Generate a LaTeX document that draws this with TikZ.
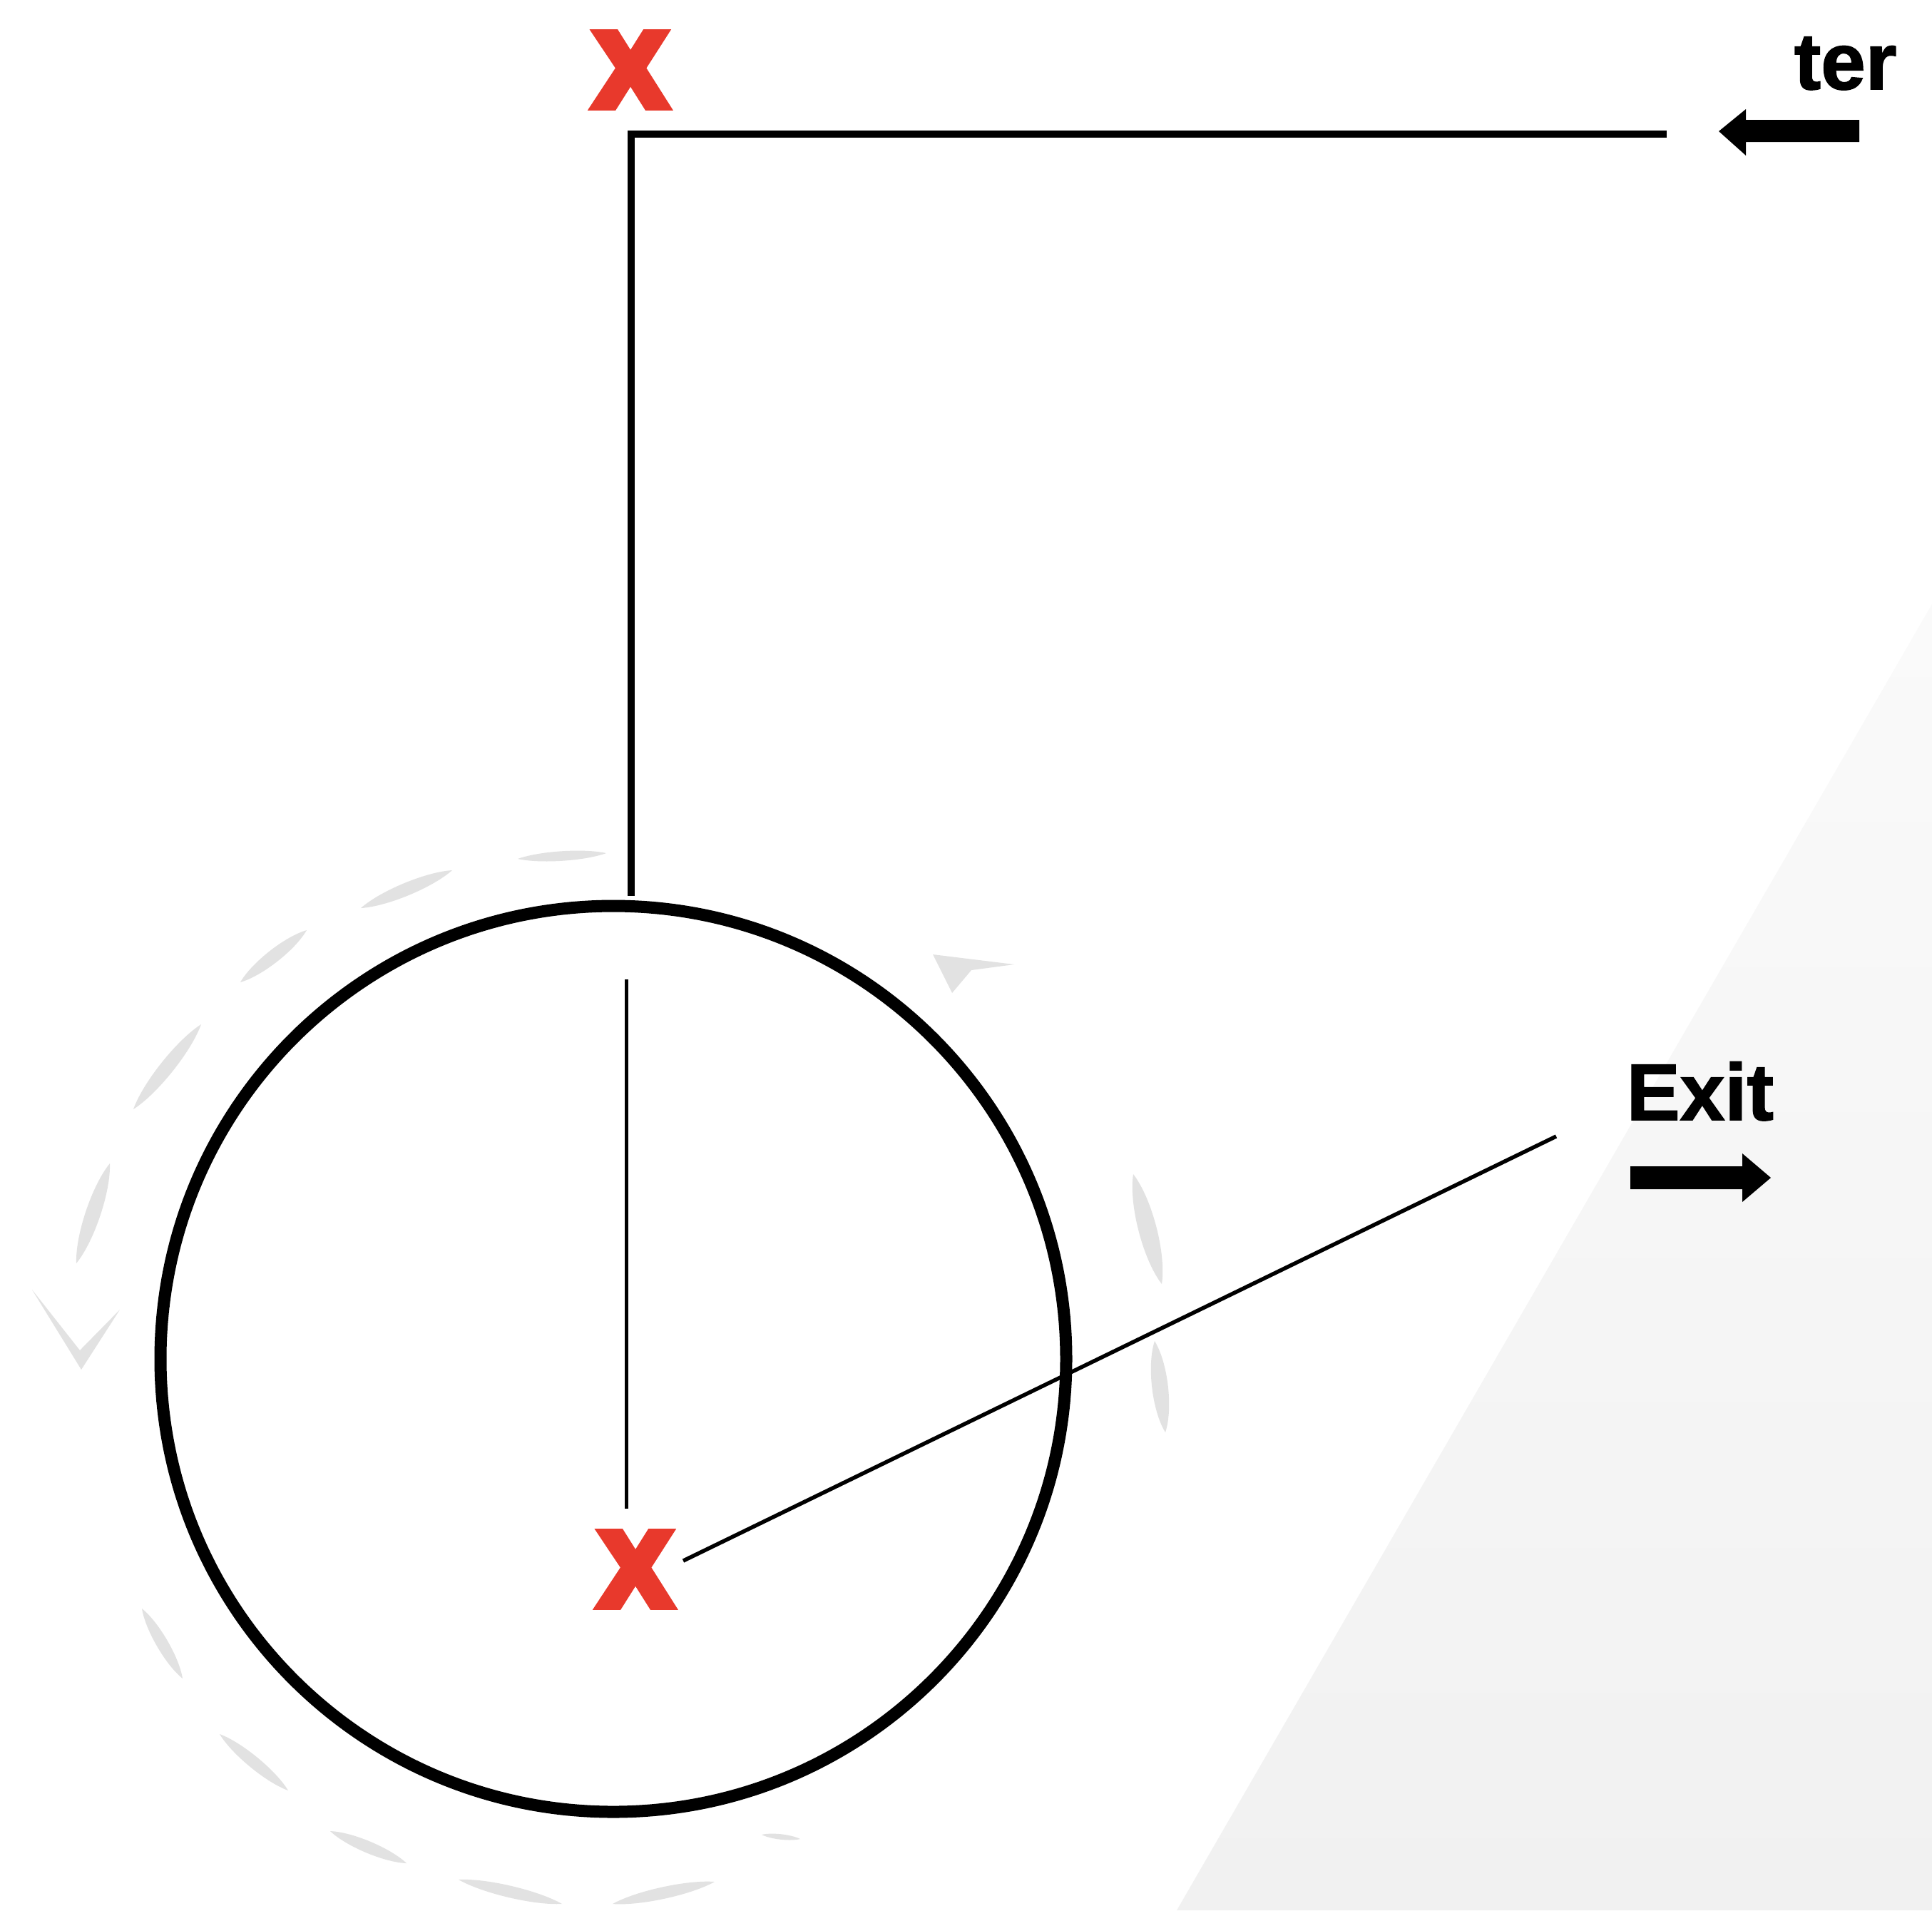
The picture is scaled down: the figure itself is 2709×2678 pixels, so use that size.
\documentclass[tikz,border=0pt]{standalone}
\usepackage{fontspec}
\setmainfont{Liberation Sans}
\newfontfamily\heavyfont{Liberation Sans}[UprightFont=* Bold, FakeBold=1.5]
\newfontfamily\xfont{Liberation Sans}[UprightFont=* Bold, FakeBold=10]
\usetikzlibrary{calc}
\definecolor{xred}{RGB}{232,57,44}
\definecolor{dashgray}{RGB}{226,226,226}
\definecolor{bgtop}{RGB}{250,250,250}
\definecolor{bgbot}{RGB}{241,241,241}
\newcommand\lensmark[3]{\fill[dashgray] (#1) .. controls ($(#1)!0.25!(#2)!#3!90:(#2)$) and ($(#1)!0.75!(#2)!#3!90:(#2)$) .. (#2) .. controls ($(#1)!0.75!(#2)!#3!-90:(#2)$) and ($(#1)!0.25!(#2)!#3!-90:(#2)$) .. (#1) -- cycle;}
\tikzset{
  xmark/.style={inner sep=0, text=xred, font=\fontsize{41}{45}\selectfont\xfont},
  label/.style={anchor=base west, inner sep=0, font=\fontsize{32}{36}\selectfont\heavyfont},
  thickline/.style={line width=0.95mm},
  thinline/.style={line width=0.5mm},
  ring/.style={circle, draw, line width=1.7mm, minimum size=127mm, inner sep=0}
}
\begin{document}
\begin{tikzpicture}[x=0.1mm, y=-0.1mm]
\fill[white] (0,0) rectangle (2709,2678);
\useasboundingbox (0,0) rectangle (2709,2678);
% light background triangle
\shade[top color=bgtop, bottom color=bgbot] (1650,2678) -- (2709,847) -- (2709,2678) -- cycle;

% gray rotation dashes
\lensmark{726,1204}{850,1196}{0.9mm}
\lensmark{506,1273}{634,1220}{1.2mm}
\lensmark{337,1377}{430,1304}{1.2mm}
\lensmark{187,1555}{282,1436}{1.3mm}
\lensmark{107,1771}{154,1631}{1.4mm}
\fill[dashgray] (45,1808) -- (112,1893) -- (168,1836) -- (114,1920) -- cycle;
\lensmark{199,2255}{256,2353}{1.1mm}
\lensmark{308,2431}{404,2510}{1.1mm}
\lensmark{463,2567}{570,2612}{1.1mm}
\lensmark{643,2635}{788,2669}{1.1mm}
\lensmark{859,2669}{1002,2638}{1.1mm}
\lensmark{1068,2572}{1122,2578}{0.5mm}
\lensmark{1589,1646}{1629,1800}{1.7mm}
\lensmark{1619,1880}{1634,2008}{1.5mm}
\fill[dashgray] (1308,1338) -- (1422,1352) -- (1362,1360) -- (1335,1392) -- cycle;

% main circle
\node[ring] (wheel) at (860,1905) {};

% red marks
\node[xmark] (xtop) at (884,98) {X};
\node[xmark] (xbot) at (891,2200) {X};

% L-shaped line
\coordinate (lright) at (2337,188);
\coordinate (lcorner) at (885,188);
\coordinate (ldown) at (885,1256);
\draw[thickline] (lright) -- (lcorner) -- (ldown);

% thin vertical line inside circle
\coordinate (vtop) at (878,1373);
\coordinate (vbot) at (878,2115);
\draw[thinline] (vtop) -- (vbot);

% exit line
\coordinate (estart) at (958,2188);
\coordinate (eend) at (2182,1593);
\draw[thinline, line width=0.55mm] (estart) -- (eend);

% texts
\node[label] (enter) at (2515,125) {ter};
\node[label] (exit) at (2280,1570) {Exit};

% block arrows
\fill (2607,168) -- (2448,168) -- (2448,153) -- (2410,184) -- (2448,218) -- (2448,199) -- (2607,199) -- cycle;
\fill (2286,1635) -- (2443,1635) -- (2443,1617) -- (2483,1651) -- (2443,1685) -- (2443,1667) -- (2286,1667) -- cycle;
\end{tikzpicture}
\end{document}
